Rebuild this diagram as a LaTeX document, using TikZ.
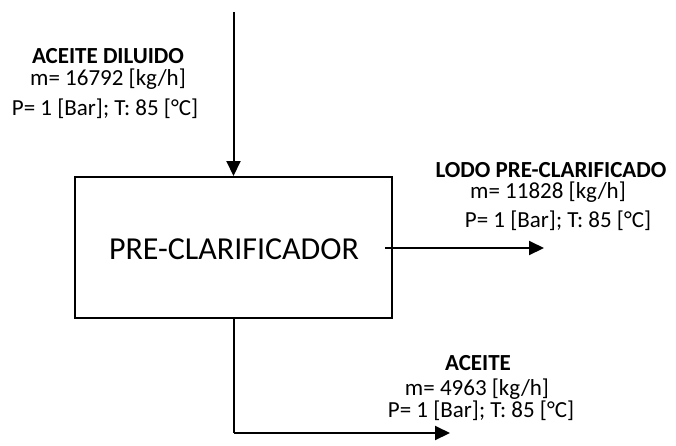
\documentclass[tikz,border=0pt]{standalone}
\usepackage{fontspec}
\setmainfont{Carlito}
\usetikzlibrary{arrows.meta}
\begin{document}
\begin{tikzpicture}[x=1pt,y=-1pt,
  flow/.style={line width=2pt,-{Triangle[length=15pt,width=14pt]}},
  pipe/.style={line width=2pt},
  lbl/.style={anchor=base,inner sep=0pt,font=\fontsize{23}{27}\selectfont},
  ttl/.style={lbl,font=\fontsize{23}{27}\selectfont\bfseries},
  unit/.style={draw,line width=2pt,minimum width=317pt,minimum height=141pt,inner sep=0pt}]
\useasboundingbox (0,0) rectangle (676,445);
\node[unit] (box) at (233.5,247.5) {};
\node[lbl,font=\fontsize{32}{38}\selectfont] (boxtxt) at (234,259) {PRE-CLARIFICADOR};
\coordinate (inTop) at (233.5,12);
\coordinate (lodoStart) at (385,248);
\coordinate (lodoEnd) at (544,248);
\coordinate (bend) at (233.5,433);
\coordinate (aceiteEnd) at (450,433);
\draw[flow] (inTop) -- (box.north);
\draw[flow] (lodoStart) -- (lodoEnd);
\draw[pipe] (box.south) -- (bend);
\draw[flow] (bend) -- (aceiteEnd);
\node[ttl] (t1) at (108,63.5) {ACEITE DILUIDO};
\node[lbl] (m1) at (108,85.5) {m= 16792 [kg/h]};
\node[lbl] (p1) at (105,115) {P= 1 [Bar]; T: 85 [°C]};
\node[ttl] (t2) at (551,177.5) {LODO PRE-CLARIFICADO};
\node[lbl] (m2) at (548,198.5) {m= 11828 [kg/h]};
\node[lbl] (p2) at (558,227) {P= 1 [Bar]; T: 85 [°C]};
\node[ttl] (t3) at (478,370.5) {ACEITE};
\node[lbl] (m3) at (477,395) {m= 4963 [kg/h]};
\node[lbl] (p3) at (481,417) {P= 1 [Bar]; T: 85 [°C]};
\end{tikzpicture}
\end{document}
